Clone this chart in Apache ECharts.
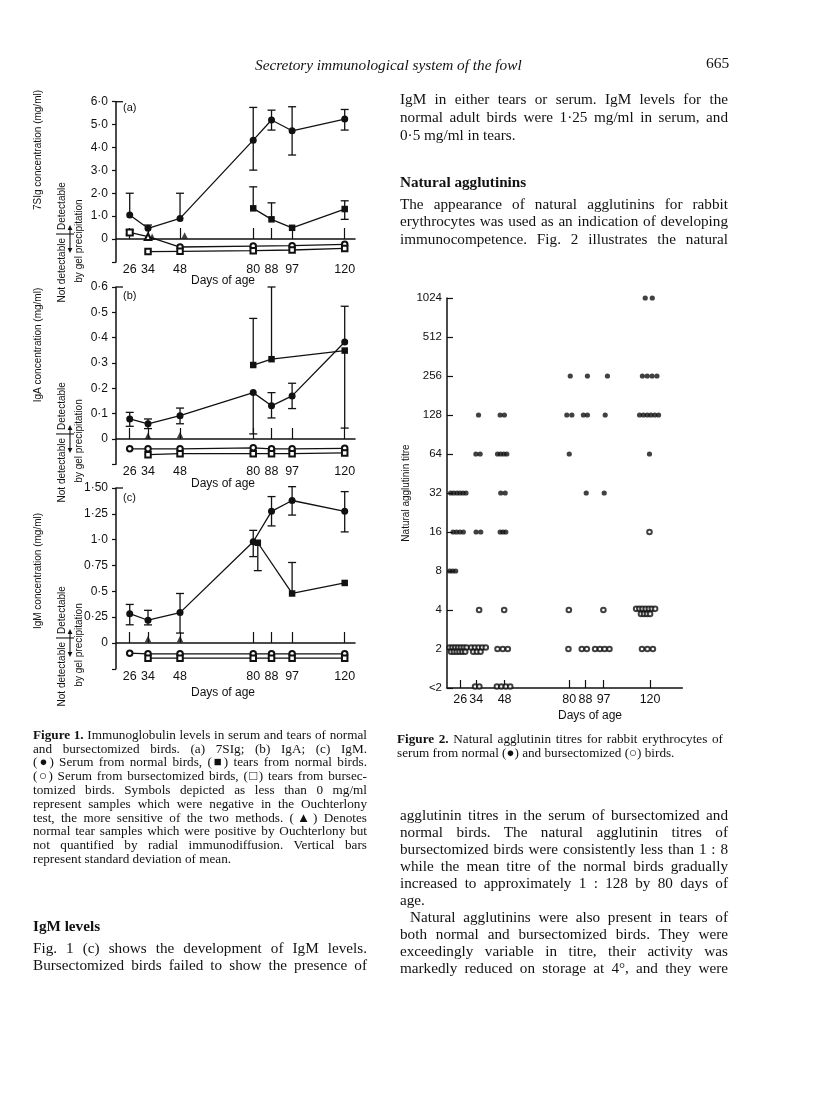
<!DOCTYPE html>
<html><head><meta charset="utf-8">
<script src="https://cdn.jsdelivr.net/npm/echarts@6/dist/echarts.min.js"></script>
<style>
html,body{margin:0;padding:0;background:#fff;}
#page{position:relative;width:816px;height:1093px;overflow:hidden;background:#fff;}
#chart{position:absolute;left:0;top:0;width:816px;height:1093px;}
#text{position:absolute;left:0;top:0;width:816px;height:1093px;pointer-events:none;}
.t{position:absolute;font-family:"Liberation Serif","DejaVu Serif",serif;color:#111;white-space:nowrap;}
.j{text-align:justify;text-align-last:justify;}
</style></head>
<body><div id="page"><div id="chart"></div><div id="text"></div></div>
<script>
// ---------- DATA ----------
const days = [26, 34, 48, 80, 88, 97, 120];
const aYLabels = ['', '0', '1·0', '2·0', '3·0', '4·0', '5·0', '6·0'];
const bYLabels = ['', '0', '0·1', '0·2', '0·3', '0·4', '0·5', '0·6'];
const cYLabels = ['', '0', '0·25', '0·5', '0·75', '1·0', '1·25', '1·50'];
const titreLabels = ['<2', '2', '4', '8', '16', '32', '64', '128', '256', '512', '1024'];

// (a) 7SIg   error rows: [day, value, low, high]
const aSerumN = [[26,1.05],[34,0.47],[48,0.9],[80,4.32],[88,5.2],[97,4.73],[120,5.24]];
const aSerumNErr = [[26,1.05,1.05,2.0],[34,0.47,0.47,0.61],[48,0.9,0.9,2.0],[80,4.32,3.01,5.75],[88,5.2,4.76,5.63],[97,4.73,3.67,5.78],[120,5.24,4.76,5.66]];
const aTearsN = [[80,1.34],[88,0.86],[97,0.49],[120,1.31]];
const aTearsNErr = [[80,1.34,1.34,2.28],[88,0.86,0.86,1.58],[120,1.31,0.86,1.67]];
const aSerumB = [[26,0.29],[34,0.1],[48,-0.35],[80,-0.31],[97,-0.29],[120,-0.23]];
const aSerumBErr = [[26,0.29,0.18,0.4]];
const aTearsB = [[34,-0.55],[48,-0.54],[80,-0.51],[97,-0.48],[120,-0.41]];
const aTri = [[35.8,0.1],[50,0.15]];

// (b) IgA
const bSerumN = [[26,0.079],[34,0.06],[48,0.092],[80,0.183],[88,0.131],[97,0.17],[120,0.383]];
const bSerumNErr = [[26,0.079,0.05,0.105],[34,0.06,0.041,0.079],[48,0.092,0.06,0.122],[80,0.183,0.02,0.183],[88,0.131,0.083,0.183],[97,0.17,0.12,0.22],[120,0.383,0.383,0.524]];
const bTearsN = [[80,0.292],[88,0.315],[120,0.349]];
const bTearsNErr = [[80,0.292,0.292,0.476],[88,0.315,0.315,0.6],[120,0.349,0.043,0.349]];
const bSerumB = [[26,-0.039],[34,-0.039],[48,-0.039],[80,-0.035],[88,-0.039],[97,-0.039],[120,-0.037]];
const bTearsB = [[34,-0.062],[48,-0.058],[80,-0.058],[88,-0.058],[97,-0.058],[120,-0.055]];
const bTri = [[34,0.013],[48,0.016]];

// (c) IgM
const cSerumN = [[26,0.284],[34,0.22],[48,0.294],[80,0.98],[88,1.274],[97,1.379],[120,1.274]];
const cSerumNErr = [[26,0.284,0.176,0.373],[34,0.22,0.175,0.316],[48,0.294,0.096,0.479],[80,0.98,0.836,1.09],[88,1.274,1.133,1.417],[97,1.379,1.238,1.513],[120,1.274,1.075,1.465]];
const cTearsN = [[82,0.97],[97,0.479],[120,0.581]];
const cTearsNErr = [[82,0.97,0.7,0.97],[97,0.479,0.479,0.779]];
const cSerumB = [[26,-0.099],[34,-0.105],[48,-0.105],[80,-0.105],[88,-0.105],[97,-0.105],[120,-0.105]];
const cTearsB = [[34,-0.147],[48,-0.147],[80,-0.147],[88,-0.147],[97,-0.147],[120,-0.147]];
const cTri = [[34,0.038],[48,0.038]];

// Fig 2: [day position, titre level index] (0 = <2, 1 = 2, ... 10 = 1024)
const normalTitre = [
 [117.6,10],[121.1,10],
 [80.5,8],[89,8],[98.9,8],[116.2,8],[118.6,8],[121,8],[123.4,8],
 [35.1,7],[45.8,7],[47.9,7],[78.8,7],[81.3,7],[87,7],[89,7],[97.8,7],[114.8,7],[116.7,7],[118.6,7],[120.4,7],[122.3,7],[124.2,7],
 [33.8,6],[35.9,6],[44.5,6],[46,6],[47.6,6],[49.1,6],[80,6],[119.7,6],
 [21.3,5],[22.8,5],[24.4,5],[25.9,5],[27.4,5],[28.9,5],[46.1,5],[48.3,5],[88.4,5],[97.3,5],
 [22.5,4],[24.2,4],[25.9,4],[27.6,4],[33.9,4],[36.2,4],[45.8,4],[47.2,4],[48.6,4],
 [20.8,3],[22.3,3],[23.8,3]
];
const bursTitre = [
 [119.7,4],
 [35.4,2],[47.8,2],[79.8,2],[96.9,2],
 [113.1,2.03],[114.7,2.03],[116.2,2.03],[117.8,2.03],[119.4,2.03],[120.9,2.03],[122.5,2.03],
 [115.5,1.9],[117,1.9],[118.5,1.9],[120,1.9],
 [20.8,1.04],[22.2,1.04],[23.6,1.04],[25,1.04],[26.4,1.04],[27.8,1.04],[29.2,1.04],
 [21.5,0.93],[22.9,0.93],[24.3,0.93],[25.7,0.93],[27.1,0.93],[28.5,0.93],
 [31.5,1.04],[33.3,1.04],[35.1,1.04],[36.9,1.04],[38.7,1.04],
 [32.5,0.93],[34.3,0.93],[36.1,0.93],
 [44.5,1],[47.1,1],[49.6,1],
 [79.6,1],[86.2,1],[88.7,1],
 [92.8,1],[95.2,1],[97.5,1],[99.9,1],
 [116,1],[118.7,1],[121.4,1],
 [33.4,0.04],[35.5,0.04],
 [44.2,0.04],[46.4,0.04],[48.6,0.04],[50.8,0.04]
];

// ---------- CHART ----------
const INK = '#111';
const SANS = 'Liberation Sans';
const chart = echarts.init(document.getElementById('chart'), null, {renderer:'canvas'});

const grids = [
  {left:116, top:101.7, width:239, height:160.2},
  {left:116, top:287, width:239, height:177.3},
  {left:116, top:488, width:239, height:180.8},
  {left:447, top:298, width:235.4, height:390}
];
const yDefs = [
  {min:-1, max:6, interval:1, labels:aYLabels},
  {min:-0.1, max:0.6, interval:0.1, labels:bYLabels},
  {min:-0.25, max:1.5, interval:0.25, labels:cYLabels},
  {min:0, max:10, interval:1, labels:titreLabels}
];

const xAxes = grids.map((g, i) => ({
  type:'value', gridIndex:i,
  min: i < 3 ? 20 : 19.5, max: i < 3 ? 124.5 : 136,
  axisLine:{show:true, lineStyle:{color:INK, width:1.5}},
  axisTick:{show:true, inside:true, length: i < 3 ? 11 : 8, customValues: days, lineStyle:{color:INK, width:1.2}},
  axisLabel:{show:true, customValues: days, formatter: v => String(v), color:INK, fontFamily:SANS, fontSize: 12.5, margin: i < 3 ? 1 : 5},
  splitLine:{show:false}
}));
const yAxes = yDefs.map((d, i) => ({
  type:'value', gridIndex:i, min:d.min, max:d.max, interval:d.interval,
  axisLine:{show:true, lineStyle:{color:INK, width:1.5}},
  axisTick:{show:true, inside: i === 3, length: i === 3 ? 6 : 4, lineStyle:{color:INK, width:1.2}},
  axisLabel:{show:true, color:INK, fontFamily:SANS, fontSize: i === 3 ? 11.5 : 12, margin: i === 3 ? 5 : 8,
    formatter: v => d.labels[Math.round((v - d.min) / d.interval)] || ''},
  splitLine:{show:false}
}));

function errSeries(idx, rows) {
  return {
    type:'custom', xAxisIndex:idx, yAxisIndex:idx, z:1, silent:true,
    data: rows, encode:{x:0, y:[2,3]},
    renderItem(params, api) {
      const x = api.value(0), v = api.value(1), lo = api.value(2), hi = api.value(3);
      const pLo = api.coord([x, lo]), pHi = api.coord([x, hi]);
      const st = {stroke:INK, lineWidth:1.3};
      const cw = 4;
      const ch = [{type:'line', shape:{x1:pLo[0], y1:pLo[1], x2:pHi[0], y2:pHi[1]}, style:st}];
      if (hi > v) ch.push({type:'line', shape:{x1:pHi[0]-cw, y1:pHi[1], x2:pHi[0]+cw, y2:pHi[1]}, style:st});
      if (lo < v) ch.push({type:'line', shape:{x1:pLo[0]-cw, y1:pLo[1], x2:pLo[0]+cw, y2:pLo[1]}, style:st});
      return {type:'group', children:ch};
    }
  };
}
function lineSeries(idx, data, symbol, size) {
  return {
    type:'line', xAxisIndex:idx, yAxisIndex:idx, z:3, data,
    symbol, symbolSize:size, showSymbol:true, showAllSymbol:true,
    lineStyle:{color:INK, width:1.3},
    itemStyle:{color:INK, borderColor:INK, borderWidth: symbol.startsWith('empty') ? 1.1 : 0},
    emphasis:{disabled:true}, silent:true
  };
}
function triSeries(idx, data) {
  return {type:'scatter', xAxisIndex:idx, yAxisIndex:idx, z:3, data, symbol:'triangle', symbolSize:6.5,
    itemStyle:{color:INK}, silent:true};
}

const series = [];
// (a)
series.push(errSeries(0, aSerumNErr), errSeries(0, aTearsNErr), errSeries(0, aSerumBErr));
series.push(lineSeries(0, aSerumN, 'circle', 7));
series.push(lineSeries(0, aTearsN, 'rect', 6.5));
series.push(lineSeries(0, aSerumB.map((p, i) => i === 0 ? {value:p, symbol:'emptyRect', symbolSize:6}
  : i === 1 ? {value:p, symbol:'emptyTriangle', symbolSize:6.5} : p), 'emptyCircle', 5.5));
series.push(lineSeries(0, aTearsB, 'emptyRect', 5.5));
series.push(triSeries(0, aTri));
// (b)
series.push(errSeries(1, bSerumNErr), errSeries(1, bTearsNErr));
series.push(lineSeries(1, bSerumN, 'circle', 7));
series.push(lineSeries(1, bTearsN, 'rect', 6.5));
series.push(lineSeries(1, bSerumB, 'emptyCircle', 5.5));
series.push(lineSeries(1, bTearsB, 'emptyRect', 5.5));
series.push(triSeries(1, bTri));
// (c)
series.push(errSeries(2, cSerumNErr), errSeries(2, cTearsNErr));
series.push(lineSeries(2, cSerumN, 'circle', 7));
series.push(lineSeries(2, cTearsN, 'rect', 6.5));
series.push(lineSeries(2, cSerumB, 'emptyCircle', 5.5));
series.push(lineSeries(2, cTearsB, 'emptyRect', 5.5));
series.push(triSeries(2, cTri));
// Fig 2
series.push({type:'scatter', xAxisIndex:3, yAxisIndex:3, data:normalTitre, symbol:'circle', symbolSize:5.2,
  itemStyle:{color:INK}, silent:true, z:3});
series.push({type:'scatter', xAxisIndex:3, yAxisIndex:3, data:bursTitre, symbol:'emptyCircle', symbolSize:4.6,
  itemStyle:{color:INK, borderColor:INK, borderWidth:1}, silent:true, z:4});

chart.setOption({
  animation:false, backgroundColor:'transparent',
  grid: grids, xAxis: xAxes, yAxis: yAxes, series
});

// ---------- annotations ----------
const g = [];
function txt(text, x, y, align, size, rot, extra) {
  g.push({type:'text', x, y, rotation: rot ? Math.PI/2 : 0, silent:true,
    style:Object.assign({text, align, verticalAlign:'middle', fontSize:size, fontFamily:SANS, fill:INK}, extra||{})});
}
function ln(x1, y1, x2, y2, w) {
  g.push({type:'line', silent:true, shape:{x1,y1,x2,y2}, style:{stroke:INK, lineWidth:w||1.1}});
}
function tri(pts) { g.push({type:'polygon', silent:true, shape:{points:pts}, style:{fill:INK}}); }

const yNames = ['7SIg concentration (mg/ml)', 'IgA concentration (mg/ml)', 'IgM concentration (mg/ml)'];
const yNameCenters = [150, 345, 571];
const tags = ['(a)', '(b)', '(c)'];
const tagY = [108, 296, 498];
const daysTitleY = [281, 484, 693];
for (let i = 0; i < 3; i++) {
  const y0 = chart.convertToPixel({yAxisIndex:i}, 0);
  const yTop = chart.convertToPixel({yAxisIndex:i}, yDefs[i].max);
  const xL = grids[i].left;
  ln(xL, yTop, xL + 7, yTop, 1.3);
  txt(yNames[i], 38, yNameCenters[i], 'center', 10, true);
  txt('Detectable', 62, y0 - 9, 'left', 10, true);
  txt('Not detectable', 62, y0 - 1, 'right', 10, true);
  ln(56, y0 - 5, 74, y0 - 5, 1.1);
  txt('by gel precipitation', 79, y0 + 2, 'center', 10, true);
  ln(70, y0 - 11, 70, y0 + 11, 1.1);
  tri([[70, y0 - 14], [67.6, y0 - 9], [72.4, y0 - 9]]);
  tri([[70, y0 + 14], [67.6, y0 + 9], [72.4, y0 + 9]]);
  txt(tags[i], 123, tagY[i], 'left', 11, false);
  txt('Days of age', 223, daysTitleY[i], 'center', 12, false);
}
txt('Natural agglutinin titre', 406, 493, 'center', 10, true);
txt('Days of age', 590, 716, 'center', 12, false);
chart.setOption({graphic: g});

// ---------- page text ----------
const B = (s) => '<b>' + s + '</b>';
const BODY = 15.2, CAP = 13.2;
const lines = [
  // [html, left, centerY, width, size, mode, css]
  ['Secretory immunological system of the fowl', 255, 65, 0, 15.3, 'l', 'font-style:italic;'],
  ['665', 706, 64, 0, 15.5, 'l', ''],
  ['IgM in either tears or serum. IgM levels for the', 400, 99.5, 328, BODY, 'j', ''],
  ['normal adult birds were 1·25 mg/ml in serum, and', 400, 117.5, 328, BODY, 'j', ''],
  ['0·5 mg/ml in tears.', 400, 135.7, 0, BODY, 'l', ''],
  [B('Natural agglutinins'), 400, 182.5, 0, BODY, 'l', ''],
  ['The appearance of natural agglutinins for rabbit', 400, 204, 328, BODY, 'j', ''],
  ['erythrocytes was used as an indication of developing', 400, 221.7, 328, BODY, 'j', ''],
  ['immunocompetence. Fig. 2 illustrates the natural', 400, 239.3, 328, BODY, 'j', ''],

  [B('Figure 1.') + ' Immunoglobulin levels in serum and tears of normal', 33, 735, 334, CAP, 'j', ''],
  ['and bursectomized birds. (a) 7SIg; (b) IgA; (c) IgM.', 33, 748.8, 334, CAP, 'j', ''],
  ['(●) Serum from normal birds, (■) tears from normal birds.', 33, 762.6, 334, CAP, 'j', ''],
  ['(○) Serum from bursectomized birds, (□) tears from bursec-', 33, 776.4, 334, CAP, 'j', ''],
  ['tomized birds. Symbols depicted as less than 0 mg/ml', 33, 790.2, 334, CAP, 'j', ''],
  ['represent samples which were negative in the Ouchterlony', 33, 804, 334, CAP, 'j', ''],
  ['test, the more sensitive of the two methods. (▲) Denotes', 33, 817.8, 334, CAP, 'j', ''],
  ['normal tear samples which were positive by Ouchterlony but', 33, 831.6, 334, CAP, 'j', ''],
  ['not quantified by radial immunodiffusion. Vertical bars', 33, 845.4, 334, CAP, 'j', ''],
  ['represent standard deviation of mean.', 33, 859.2, 0, CAP, 'l', ''],

  [B('Figure 2.') + ' Natural agglutinin titres for rabbit erythrocytes of', 397, 739, 326, CAP, 'j', ''],
  ['serum from normal (●) and bursectomized (○) birds.', 397, 753.3, 0, CAP, 'l', ''],

  ['agglutinin titres in the serum of bursectomized and', 400, 815, 328, BODY, 'j', ''],
  ['normal birds. The natural agglutinin titres of', 400, 832, 328, BODY, 'j', ''],
  ['bursectomized birds were consistently less than 1 : 8', 400, 849, 328, BODY, 'j', ''],
  ['while the mean titre of the normal birds gradually', 400, 866, 328, BODY, 'j', ''],
  ['increased to approximately 1 : 128 by 80 days of', 400, 883, 328, BODY, 'j', ''],
  ['age.', 400, 900, 0, BODY, 'l', ''],
  ['Natural agglutinins were also present in tears of', 410, 917, 318, BODY, 'j', ''],
  ['both normal and bursectomized birds. They were', 400, 934, 328, BODY, 'j', ''],
  ['exceedingly variable in titre, their activity was', 400, 951, 328, BODY, 'j', ''],
  ['markedly reduced on storage at 4°, and they were', 400, 968, 328, BODY, 'j', ''],

  [B('IgM levels'), 33, 926, 0, BODY, 'l', ''],
  ['Fig. 1 (c) shows the development of IgM levels.', 33, 948.5, 334, BODY, 'j', ''],
  ['Bursectomized birds failed to show the presence of', 33, 965.5, 334, BODY, 'j', '']
];
const host = document.getElementById('text');
lines.forEach(([html, left, cy, width, size, mode, css]) => {
  const d = document.createElement('div');
  d.className = 't' + (mode === 'j' ? ' j' : '');
  d.style.cssText = 'left:' + left + 'px;top:' + (cy - size * 0.62) + 'px;font-size:' + size + 'px;line-height:' + (size * 1.2) + 'px;' + (width ? 'width:' + width + 'px;' : '') + css;
  d.innerHTML = html;
  host.appendChild(d);
});
</script>
</body></html>
